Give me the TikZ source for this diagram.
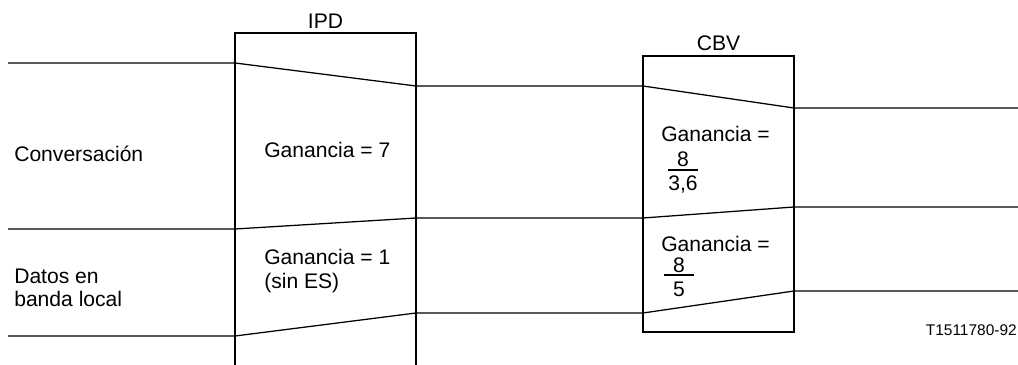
\documentclass[tikz,border=0pt]{standalone}
\usepackage{fontspec}
\setmainfont{Liberation Sans}
\usetikzlibrary{positioning}

\begin{document}
\begin{tikzpicture}[x=0.025cm, y=-0.025cm,
    line/.style={line width=0.9pt},
    label/.style={font=\fontsize{15}{16.5}\selectfont, inner sep=0pt, align=left},
    tag/.style={font=\fontsize{11}{13}\selectfont, inner sep=0pt}
]
\useasboundingbox (0,0) rectangle (1018,365);

% IPD box, open at the bottom
\coordinate (ipd-tl) at (235,33);
\coordinate (ipd-tr) at (416,33);
\draw[line] (235,365) -- (ipd-tl) -- (ipd-tr) -- (416,365);
\node[label] (ipd) at (325.5,21) {IPD};

% CBV box
\coordinate (cbv-tl) at (643,56);
\coordinate (cbv-br) at (794,332);
\draw[line] (cbv-tl) rectangle (cbv-br);
\node[label] (cbv) at (718.5,43) {CBV};

% Signal levels
\draw[line] (8,63) -- (235,63) -- (416,86) -- (643,86) -- (794,108) -- (1018,108);
\draw[line] (8,229) -- (235,229) -- (416,218) -- (643,218) -- (794,207) -- (1018,207);
\draw[line] (8,336) -- (235,336) -- (416,313) -- (643,313) -- (794,291) -- (1018,291);

% Left labels
\node[label, anchor=west] (conv) at (14,154) {Conversación};
\node[label, anchor=west] (datos) at (14,288) {Datos en\\banda local};

% Gains in IPD
\node[label, anchor=west] (gain-ipd1) at (264,150) {Ganancia = 7};
\node[label, anchor=west] (gain-ipd2) at (264,271) {Ganancia = 1\\(sin ES)};

% Gains in CBV
\node[label, anchor=west] (gain-cbv1) at (661,134) {Ganancia =};
\node[label] (num1) at (683,159) {8};
\node[label] (den1) at (683,184) {3,6};
\draw[line] (668,170) -- (698,170);

\node[label, anchor=west] (gain-cbv2) at (661,244) {Ganancia =};
\node[label] (num2) at (679,265) {8};
\node[label] (den2) at (679,289) {5};
\draw[line] (664,275) -- (694,275);

% Figure reference
\node[tag, anchor=east] (ref) at (1017,330) {T1511780-92};
\end{tikzpicture}
\end{document}
